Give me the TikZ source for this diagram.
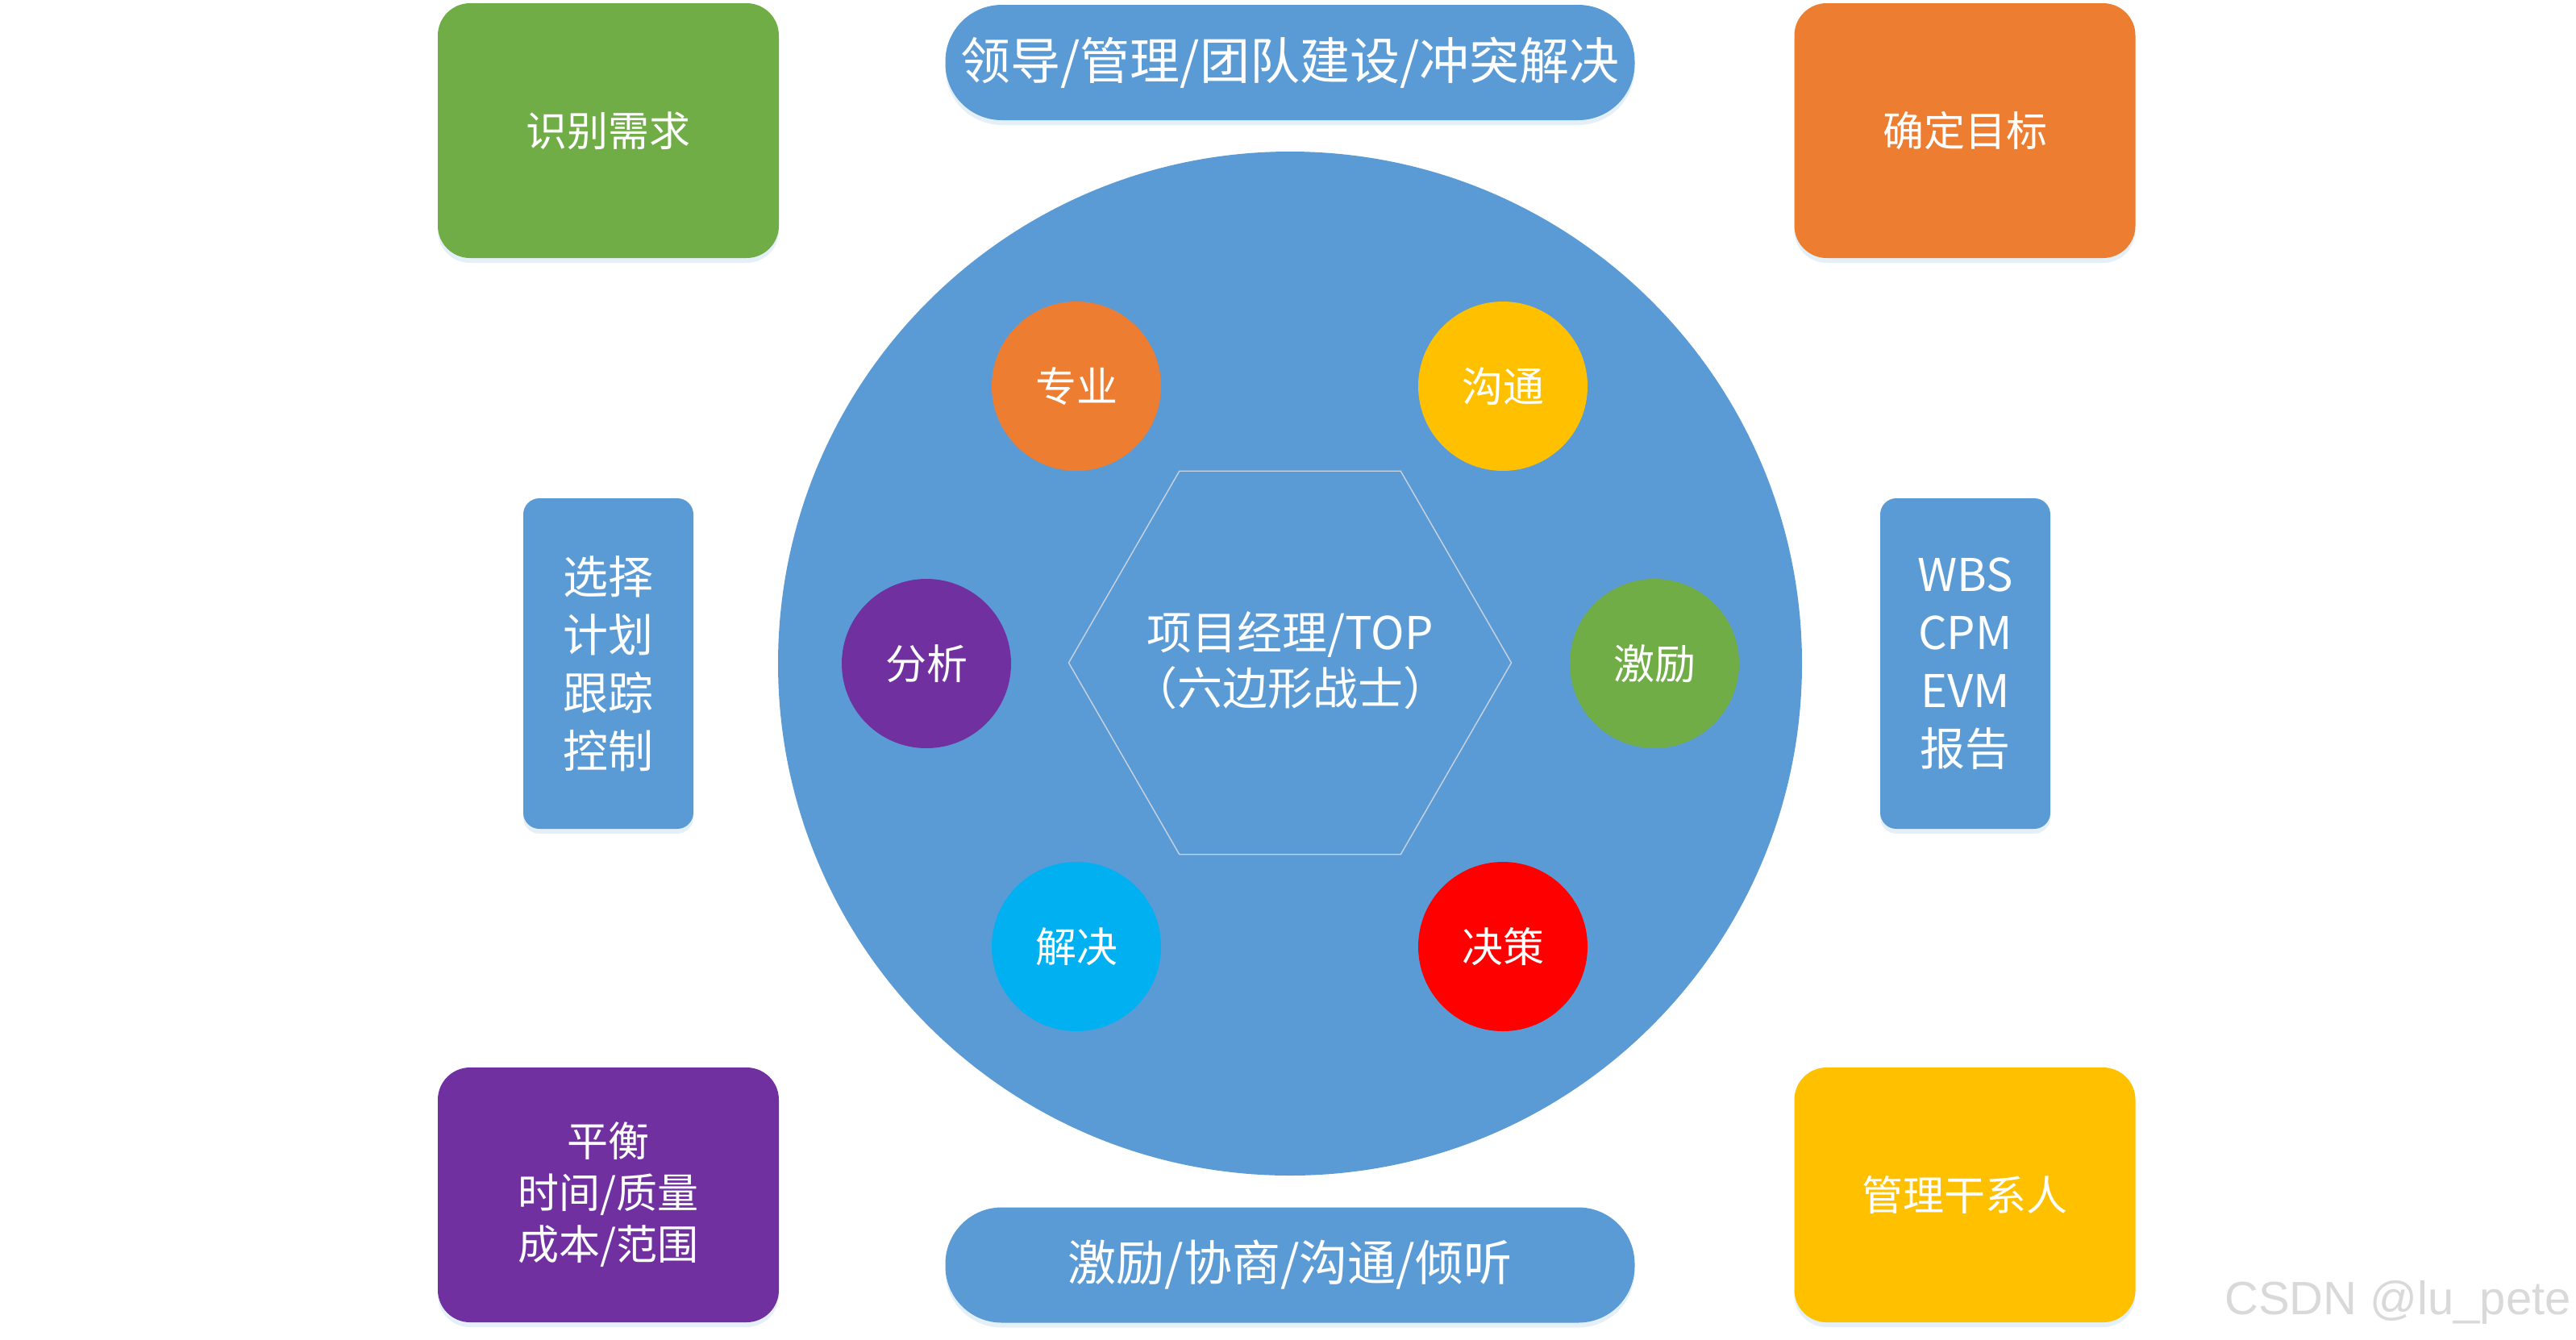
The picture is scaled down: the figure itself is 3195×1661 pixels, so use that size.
\documentclass[tikz,border=0pt]{standalone}
\usepackage{fontspec}
\setmainfont{Noto Sans CJK SC}
\newfontfamily\wmfont{Liberation Sans}
\usetikzlibrary{shapes.geometric,shadows}
\definecolor{mblue}{HTML}{5B9BD5}
\definecolor{mgreen}{HTML}{70AD47}
\definecolor{morange}{HTML}{ED7D31}
\definecolor{mgold}{HTML}{FFC000}
\definecolor{mpurple}{HTML}{7030A0}
\definecolor{mcyan}{HTML}{00B0F0}
\definecolor{mred}{HTML}{FF0000}
\definecolor{hexline}{HTML}{C9D3E0}
\definecolor{wmgray}{HTML}{D9D9D9}
\begin{document}
\begin{tikzpicture}[x=0.5pt,y=-0.5pt,
  every node/.style={text=white, align=center, inner sep=0pt},
  glow/.style={drop shadow={shadow xshift=0pt,shadow yshift=-3pt,fill=mblue!45,opacity=0.35}},
  cornerbox/.style={rectangle, rounded corners=20pt, minimum width=211.5pt, minimum height=158pt, glow},
  tallbox/.style={rectangle, rounded corners=10pt, minimum width=105.5pt, minimum height=205pt, fill=mblue, glow},
  pill/.style={rectangle, rounded corners=35pt, minimum width=427.5pt, minimum height=71.5pt, fill=mblue, glow},
  dot/.style={circle, minimum size=105pt, font=\fontsize{25.5pt}{32pt}\selectfont},
  tbox/.style={font=\fontsize{25.5pt}{32pt}\selectfont},
  ttall/.style={font=\fontsize{28pt}{36pt}\selectfont},
  tcenter/.style={font=\fontsize{28pt}{34.5pt}\selectfont},
  tpilltop/.style={font=\fontsize{31pt}{38pt}\selectfont},
  tpillbot/.style={font=\fontsize{30pt}{36pt}\selectfont}]
\useasboundingbox (0,0) rectangle (3195,1661);

% big circle
\node[circle, fill=mblue, minimum size=635pt] (big) at (1600,823) {};
% hexagon
\node[regular polygon, regular polygon sides=6, minimum size=274.5pt, draw=hexline, line width=0.7pt] (hex) at (1600,822) {};
\node[tcenter] (pm) at (1600,819) {项目经理/TOP\\（六边形战士）};

% small circles
\node[dot, fill=morange] (zy) at (1335,479) {专业};
\node[dot, fill=mgold] (gt) at (1864,479) {沟通};
\node[dot, fill=mpurple] (fx) at (1149,823) {分析};
\node[dot, fill=mgreen] (jl) at (2052,823) {激励};
\node[dot, fill=mcyan] (jj) at (1335,1174) {解决};
\node[dot, fill=mred] (jc) at (1864,1174) {决策};

% corner boxes
\node[cornerbox, fill=mgreen, tbox] (req) at (754.5,162) {识别需求};
\node[cornerbox, fill=morange, tbox] (goal) at (2437,162) {确定目标};
\node[cornerbox, fill=mpurple, tbox] (bal) at (754.5,1482) {平衡\\时间/质量\\成本/范围};
\node[cornerbox, fill=mgold, tbox] (stake) at (2437,1482) {管理干系人};

% tall boxes
\node[tallbox, ttall] (ctrl) at (754.5,823) {选择\\计划\\跟踪\\控制};
\node[tallbox, ttall] (tools) at (2437.5,823) {WBS\\CPM\\EVM\\报告};

% pills
\node[pill, tpilltop] (lead) at (1600,77.5) {领导/管理/团队建设/冲突解决};
\node[pill, tpillbot] (motiv) at (1600,1569) {激励/协商/沟通/倾听};

% watermark
\node[text=wmgray, font=\wmfont\fontsize{29pt}{34pt}\selectfont] (wm) at (2974,1615) {CSDN @lu\_pete};
\end{tikzpicture}
\end{document}
